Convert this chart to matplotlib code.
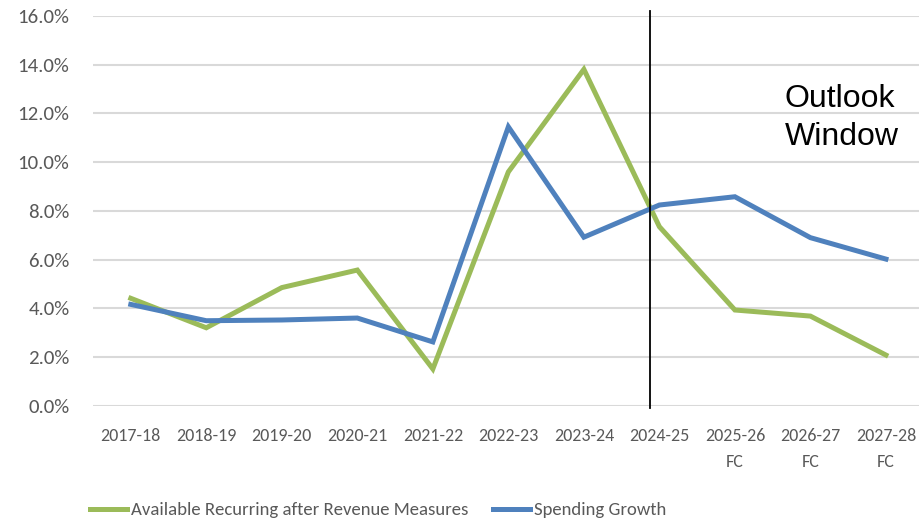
import matplotlib
matplotlib.use("Agg")
import matplotlib.pyplot as plt
from matplotlib.ticker import FuncFormatter

years = ["2017-18", "2018-19", "2019-20", "2020-21", "2021-22", "2022-23",
         "2023-24", "2024-25", "2025-26\nFC", "2026-27\nFC", "2027-28\nFC"]
available = [4.41, 3.20, 4.85, 5.57, 1.51, 9.60, 13.81, 7.35, 3.93, 3.68, 2.08]
spending = [4.16, 3.49, 3.52, 3.60, 2.62, 11.45, 6.92, 8.24, 8.58, 6.90, 6.02]
yticks = [0, 2, 4, 6, 8, 10, 12, 14, 16]
outlook_x = 6.87

font = ["Carlito", "DejaVu Sans"]

fig = plt.figure(figsize=(9.21, 5.25), dpi=100)
ax = fig.add_axes([0.101, 0.2272, 0.897, 0.7423])

x = list(range(len(years)))
ax.plot(x, available, color="#9BBB59", lw=3.6, solid_joinstyle="miter",
        label="Available Recurring after Revenue Measures")
ax.plot(x, spending, color="#4F81BD", lw=3.6, solid_joinstyle="miter",
        label="Spending Growth")

# outlook window divider
ax.plot([outlook_x, outlook_x], [-0.1, 16.2], color="black", lw=1.3, clip_on=False)
ax.text(8.66, 13.2, "Outlook\nWindow", fontsize=23, ha="left", va="top",
        multialignment="left", family="Liberation Sans", linespacing=1.32)

ax.set_xlim(-0.5, 10.44)
ax.set_ylim(0, 16)
ax.set_yticks(yticks)
ax.yaxis.set_major_formatter(FuncFormatter(lambda v, p: "%.1f%%" % v))
ax.set_xticks(x)
ax.set_xticklabels(years, linespacing=1.75)
ax.grid(axis="y", color="#D9D9D9", lw=1.5)
ax.set_axisbelow(True)
for s in ax.spines.values():
    s.set_visible(False)
ax.tick_params(axis="both", length=0, colors="#595959")
ax.tick_params(axis="y", pad=17, labelsize=15)
ax.tick_params(axis="x", pad=16, labelsize=13)
for lab in ax.get_xticklabels() + ax.get_yticklabels():
    lab.set_family(font)

leg = fig.legend(loc="center left", bbox_to_anchor=(0.079, 0.028), ncol=2,
                 frameon=False, handlelength=2.0, handletextpad=0.2,
                 columnspacing=1.3, prop={"family": font, "size": 13.5})
for t in leg.get_texts():
    t.set_color("#595959")

fig.savefig("out.png", dpi=100)
